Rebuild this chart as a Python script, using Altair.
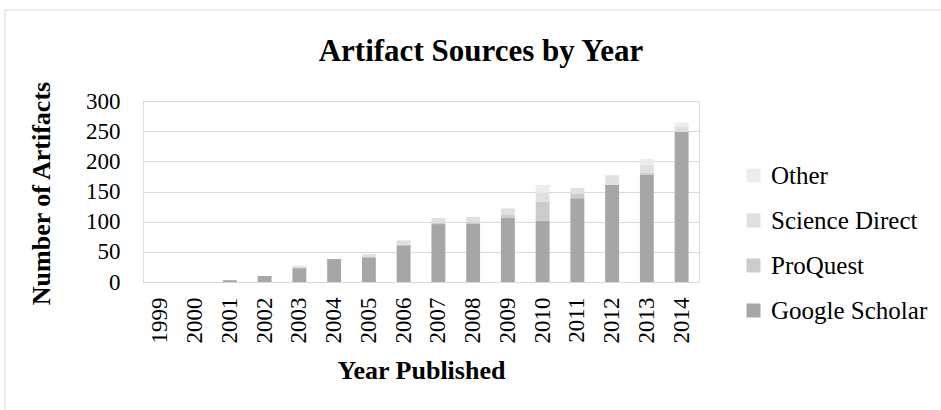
import altair as alt
import pandas as pd

# Publication years (categories on the x axis)
years = ["1999", "2000", "2001", "2002", "2003", "2004", "2005", "2006",
         "2007", "2008", "2009", "2010", "2011", "2012", "2013", "2014"]

# Number of artifacts per source and year
google_scholar = [0, 0, 3, 10, 23, 38, 41, 61, 96, 97, 106, 101, 139, 161, 178, 249]
proquest = [0, 0, 0, 0, 0, 0, 0, 0, 2, 2, 5, 32, 7, 0, 3, 0]
science_direct = [0, 0, 0, 0, 4, 0, 5, 8, 8, 9, 11, 15, 10, 16, 14, 9]
other = [0, 0, 0, 0, 0, 0, 0, 0, 0, 0, 0, 13, 0, 0, 9, 6]

# Stacking order, bottom to top
sources = ["Google Scholar", "ProQuest", "Science Direct", "Other"]
shades = ["#a6a6a6", "#cccccc", "#e0e0e0", "#ececec"]
series = [google_scholar, proquest, science_direct, other]

y_ticks = [0, 50, 100, 150, 200, 250, 300]

chart_title = "Artifact Sources by Year"

rows = []
for i, yr in enumerate(years):
    for rank, (name, vals) in enumerate(zip(sources, series)):
        rows.append({"year": yr, "source": name, "count": vals[i], "rank": rank})
df = pd.DataFrame(rows)

FONT = "Liberation Serif"
GRID = "#d9d9d9"

bars = alt.Chart(df).mark_bar().encode(
    x=alt.X(
        "year:N",
        sort=years,
        title="Year Published",
        scale=alt.Scale(paddingInner=0.6, paddingOuter=0.3),
        axis=alt.Axis(
            labelAngle=270,
            labelAlign="right",
            labelBaseline="middle",
            labelFont=FONT,
            labelFontSize=23,
            labelColor="black",
            labelPadding=15,
            ticks=False,
            tickSize=0,
            domainColor=GRID,
            titleFont=FONT,
            titleFontSize=26,
            titleFontWeight="bold",
            titleColor="black",
            titleBaseline="middle",
            titleY=88,
        ),
    ),
    y=alt.Y(
        "count:Q",
        stack="zero",
        title="Number of Artifacts",
        scale=alt.Scale(domain=[0, 300], nice=False),
        axis=alt.Axis(
            values=y_ticks,
            grid=True,
            gridColor=GRID,
            gridWidth=1,
            domain=False,
            ticks=False,
            tickSize=0,
            labelFont=FONT,
            labelFontSize=23,
            labelColor="black",
            labelPadding=23,
            titleFont=FONT,
            titleFontSize=26,
            titleFontWeight="bold",
            titleColor="black",
            titleAngle=270,
            titleAlign="center",
            titleBaseline="middle",
            titleX=-102,
            titleY=92,
        ),
    ),
    color=alt.Color(
        "source:N",
        title=None,
        scale=alt.Scale(domain=sources[::-1], range=shades[::-1]),
        legend=alt.Legend(
            orient="none",
            legendX=598,
            legendY=62,
            symbolType="square",
            symbolSize=196,
            symbolStrokeWidth=0,
            labelFont=FONT,
            labelFontSize=25,
            labelColor="black",
            labelOffset=5,
            rowPadding=19,
        ),
    ),
    order=alt.Order("rank:Q", sort="ascending"),
)

# Light outer frame around the chart
frame = alt.Chart(pd.DataFrame({"k": [0]})).mark_rect(
    filled=False, stroke=GRID, strokeWidth=1
).encode(
    x=alt.value(-138), x2=alt.value(820), y=alt.value(-91), y2=alt.value(330)
)

# Chart heading
heading = alt.Chart(pd.DataFrame({"t": [chart_title]})).mark_text(
    font=FONT, fontSize=31, fontWeight="bold", color="black",
    align="center", baseline="alphabetic"
).encode(text="t:N", x=alt.value(338), y=alt.value(-40))

chart = alt.layer(frame, bars, heading).properties(
    width=556,
    height=181,
    autosize=alt.AutoSizeParams(type="none"),
    padding={"left": 143, "top": 101, "right": 242, "bottom": 128},
).configure_view(stroke=None).configure(background="white")

chart.save("out.html", embed_options={"renderer": "svg", "actions": False})
